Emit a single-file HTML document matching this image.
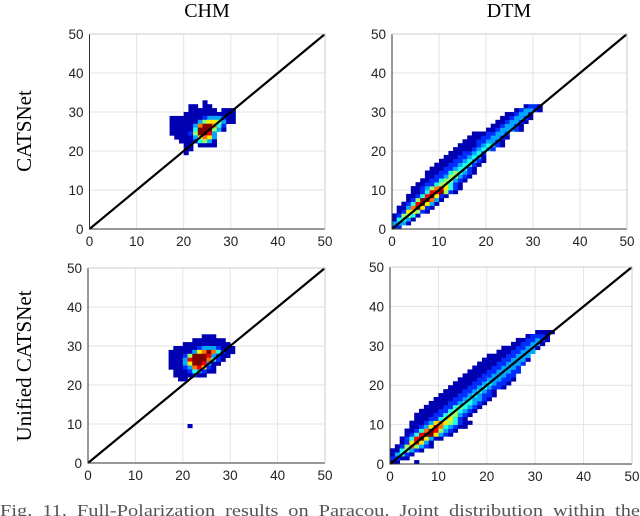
<!DOCTYPE html>
<html><head><meta charset="utf-8"><style>
body{margin:0;background:#fff;width:640px;height:516px;overflow:hidden}
svg{display:block}
.t{font-family:"Liberation Sans",sans-serif;font-size:13.5px;fill:#222}
.h{font-family:"Liberation Serif",serif;font-size:20px;fill:#000}
</style></head><body>
<svg id="c" width="640" height="516">
<text class="h" x="207" y="17" text-anchor="middle">CHM</text>
<text class="h" x="509" y="17" text-anchor="middle">DTM</text>
<text class="h" transform="translate(31,131) rotate(-90)" text-anchor="middle" style="font-size:21px">CATSNet</text>
<text class="h" transform="translate(31,366) rotate(-90)" text-anchor="middle" style="font-size:21px">Unified CATSNet</text>
<text x="0" y="516" textLength="640" lengthAdjust="spacingAndGlyphs" style="font-family:'Liberation Serif',serif;font-size:17px;fill:#555;word-spacing:4px">Fig. 11.  Full-Polarization results on Paracou. Joint distribution within the</text>
</svg>
<script>
// tick labels
const ticks=[0,10,20,30,40,50];
// heatmap rows: [y, xStart, densities('.'=empty)]
const chmCats=[[32,24,"1"],[31,21,"11.11"],[30,21,"111111.111"],[29,20,"11111111111"],[28,17,"11111112333211"],[27,17,"11111135665311"],[26,17,"111113799742"],[25,17,"111114999531"],[24,17,"1111259983"],[23,18,"111136763"],[22,19,"11124531"],[21,20,"11.1111"],[20,20,"11"],[19,20,"1"]];
const dtmCats=[[0,0,"22"],[1,0,"3331"],[2,0,"14431"],[3,0,"125541"],[4,1,"1266521"],[5,1,"11379621"],[6,2,"12489631"],[7,3,"12599731"],[8,3,"112489621"],[9,4,"1124889521"],[10,4,"11235786421"],[11,5,"1122456421"],[12,6,"1122455321"],[13,7,"1122355321"],[14,7,"11122454321"],[15,8,"1112234421"],[16,9,"1112234421"],[17,10,"1112234321"],[18,11,"111223431"],[19,12,"11122342"],[20,13,"111123432"],[21,14,"1111234321"],[22,15,"111223321"],[23,16,"111223321"],[24,17,"11122332"],[25,20,"11233321"],[26,21,"1123321"],[27,22,"1123321"],[28,23,"1123321"],[29,24,"112331"],[30,26,"123321"],[31,28,"1221"]];
const chmUni=[[32,24,"111"],[31,22,"1111111"],[30,20,"1111111111"],[29,18,"1111123332111"],[28,17,"11111367974211"],[27,17,"1112599983211"],[26,17,"111389997421"],[25,17,"11136998311"],[24,17,"1112378621"],[23,18,"111243211"],[22,18,"1111211"],[21,19,"11"],[9,21,"1"]];
const dtmUni=[[0,0,"11"],[0,5,"1"],[1,0,"2211"],[2,0,"13421"],[3,0,"1145321"],[4,1,"12575321"],[5,2,"1268631"],[6,2,"124896311"],[7,3,"1248996321"],[8,3,"11247985321"],[9,4,"112368743211"],[10,4,"1112367654211"],[11,5,"11122456421"],[12,5,"111122455321"],[13,6,"111122454321"],[14,7,"111122454321"],[15,8,"111122344321"],[16,9,"111122343321"],[17,10,"111122343221"],[18,11,"11112234321"],[19,12,"111122343221"],[20,13,"111122343221"],[21,14,"111122333221"],[22,15,"11112233322"],[23,16,"11112233322"],[24,17,"1111223332"],[25,18,"1111223332"],[26,19,"1111223331"],[27,20,"111122333"],[28,22,"11122333"],[29,23,"11122331"],[30,25,"1122331"],[31,26,"1122321"],[32,28,"12221"],[33,30,"1111"]];

const NS="http://www.w3.org/2000/svg";
const svg=document.getElementById('c');
function mk(t,a){const e=document.createElementNS(NS,t);for(const k in a)e.setAttribute(k,a[k]);svg.appendChild(e);return e;}
function jet(v){const t=0.05+(v-1)/8*0.95;const c=x=>Math.round(255*Math.max(0,Math.min(1,1.5-Math.abs(4*t-x))));return `rgb(${c(3)},${c(2)},${c(1)})`;}
const panels=[
 {name:'chm-catsnet',x0:89.5,x1:325,yb:229,yt:34,data:chmCats},
 {name:'dtm-catsnet',x0:392,x1:627,yb:229,yt:34,data:dtmCats},
 {name:'chm-unified',x0:88,x1:325,yb:463,yt:268,data:chmUni},
 {name:'dtm-unified',x0:390,x1:632,yb:464,yt:267,data:dtmUni}];
panels.forEach(p=>{
 const sx=v=>p.x0+(p.x1-p.x0)*v/50, sy=v=>p.yb-(p.yb-p.yt)*v/50;
 ticks.forEach(t=>{
  if(t>0&&t<50){
   let g=mk('line',{x1:sx(t),x2:sx(t),y1:p.yt,y2:p.yb,stroke:'#e3e3e3','stroke-width':1});
   
   
   g=mk('line',{x1:p.x0,x2:p.x1,y1:sy(t),y2:sy(t),stroke:'#e3e3e3','stroke-width':1});
   
   
  }
  let l=mk('text',{class:'t',x:sx(t),y:p.yb+17,'text-anchor':'middle'});l.textContent=t;
  
  
  l=mk('text',{class:'t',x:p.x0-6,y:sy(t)+5,'text-anchor':'end'});l.textContent=t;
  
  
 });
 p.data.forEach(r=>{
  const y=r[0],s=r[1],str=r[2];
  for(let i=0;i<str.length;i++){const ch=str[i];if(ch==='.')continue;const x=s+i;
   const c=mk('rect',{x:sx(x),y:sy(y+1),width:sx(x+1)-sx(x)+0.3,height:sy(y)-sy(y+1)+0.3,fill:jet(+ch)});
   
   
  }
 });
 let d=mk('line',{x1:sx(0),y1:sy(0),x2:sx(50),y2:sy(50),stroke:'#000','stroke-width':2.2});
 
 
 let a=mk('path',{d:`M${p.x0},${p.yt}V${p.yb}H${p.x1}`,fill:'none',stroke:'#333','stroke-width':1});
 
 
 a=mk('path',{d:`M${p.x0},${p.yt}H${p.x1}V${p.yb}`,fill:'none',stroke:'#ccc','stroke-width':1});
 
 
});
</script>
</body></html>
